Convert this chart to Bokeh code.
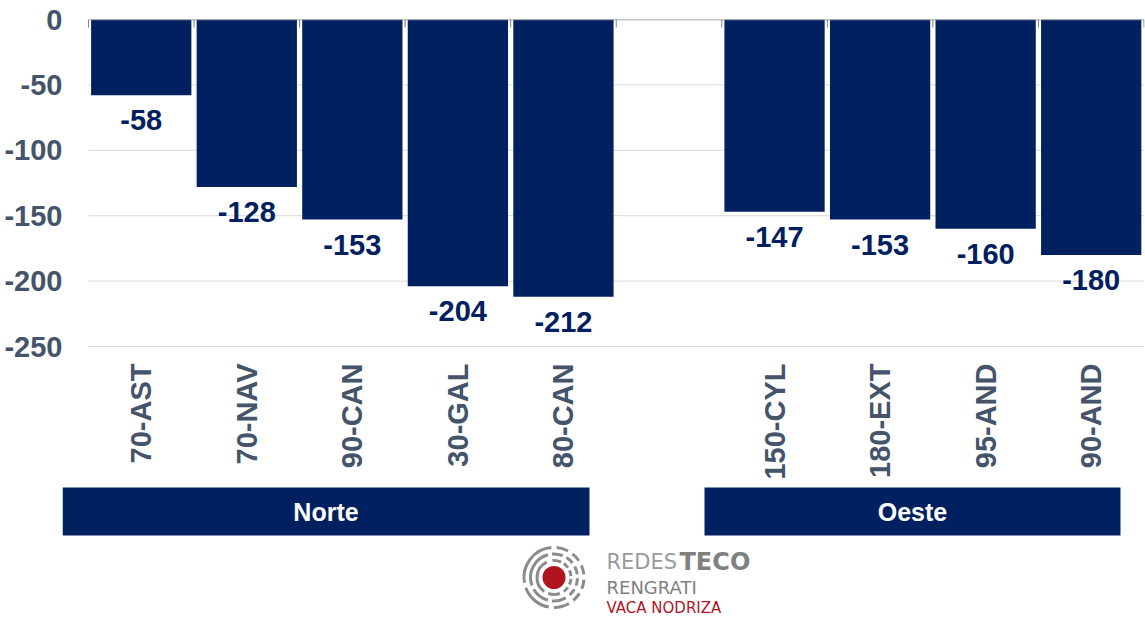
import math
from bokeh.plotting import figure
from bokeh.models import Range1d, FixedTicker
from bokeh.embed import file_html
from bokeh.resources import INLINE
from bokeh.core.properties import value

# ---------------- data ----------------
categories = ["70-AST", "70-NAV", "90-CAN", "30-GAL", "80-CAN",
              "150-CYL", "180-EXT", "95-AND", "90-AND"]
values = [-58, -128, -153, -204, -212, -147, -153, -160, -180]
groups = ["Norte", "Norte", "Norte", "Norte", "Norte",
          "Oeste", "Oeste", "Oeste", "Oeste"]
group_names = ["Norte", "Oeste"]
y_ticks = [0, -50, -100, -150, -200, -250]
logo_lines = ["REDES", "TECO", "RENGRATI", "VACA NODRIZA"]

# ---------------- styling / layout ----------------
NAVY = "#002060"
AXIS_TXT = "#44546A"
FONT = value("Liberation Sans")
W, H = 1145, 619
B_L, B_T, B_R, B_B = 62, 19, 1, 0
MARGIN = 0
PX_PER_UNIT = 1.308
frame_w = W - B_L - B_R
frame_h = H - B_T - B_B
X_START = -0.246
X_END = 10.005
Y_START = -frame_h / PX_PER_UNIT


def px_x(px):
    return X_START + (px - MARGIN - B_L) / frame_w * (X_END - X_START)


def px_y(py):
    return -(py - MARGIN - B_T) / PX_PER_UNIT


def px_len(dpx):
    return dpx / PX_PER_UNIT

# slot positions (gap of one slot between groups)
slots = []
s = 0
for i, g in enumerate(groups):
    if i > 0 and g != groups[i - 1]:
        s += 1
    slots.append(s)
    s += 1
n_slots = s
xs = [sl + 0.5 for sl in slots]

p = figure(width=W, height=H, output_backend="svg", toolbar_location=None,
           x_range=Range1d(X_START, X_END), y_range=Range1d(Y_START, 0),
           x_axis_location=None, min_border_left=B_L, min_border_top=B_T,
           min_border_right=B_R, min_border_bottom=B_B)
p.outline_line_color = None
p.grid.visible = False
p.background_fill_color = "white"
p.border_fill_color = "white"

# y axis
p.yaxis.ticker = FixedTicker(ticks=y_ticks)
p.yaxis.major_label_overrides = {t: str(t) for t in y_ticks}
p.yaxis.axis_line_color = None
p.yaxis.major_tick_line_color = None
p.yaxis.minor_tick_line_color = None
p.yaxis.major_tick_out = 0
p.yaxis.major_tick_in = 0
p.yaxis.major_label_standoff = 0
p.yaxis.major_label_text_font = "Liberation Sans"
p.yaxis.major_label_text_font_style = "bold"
p.yaxis.major_label_text_font_size = "29px"
p.yaxis.major_label_text_color = AXIS_TXT

# gridlines (inside the slot area only)
grid_vals = [t for t in y_ticks if t != 0]
p.segment(x0=[0] * len(grid_vals), x1=[n_slots] * len(grid_vals),
          y0=grid_vals, y1=grid_vals, line_color="#D9D9D9", line_width=1)

# bars
p.vbar(x=xs, top=0, bottom=values, width=0.95, fill_color=NAVY, line_color=None)

# category axis line at zero with slot-boundary ticks
p.segment(x0=[0], x1=[n_slots], y0=[0], y1=[0], line_color="#898989", line_width=1.5)
bounds = list(range(n_slots + 1))
p.segment(x0=bounds, x1=bounds, y0=[0] * len(bounds), y1=[-px_len(8)] * len(bounds),
          line_color="#7F7F7F", line_width=1)

# value labels
p.text(x=xs, y=values, text=[str(v) for v in values], y_offset=25,
       text_align="center", text_baseline="middle", text_font=FONT,
       text_font_style="bold", text_font_size="29px", text_color=NAVY)

# category labels (rotated)
p.text(x=xs, y=[px_y(363)] * len(xs), text=categories, angle=math.pi / 2,
       text_align="right", text_baseline="middle", text_font=FONT,
       text_font_style="bold", text_font_size="29px", text_color=AXIS_TXT)

# group bands
band_left_px = [59, 704]
band_right_px = [589, 1120]
bl = [max(px_x(v), X_START) for v in band_left_px]
br = [px_x(v) for v in band_right_px]
p.quad(left=bl, right=br, top=px_y(487), bottom=px_y(535),
       fill_color=NAVY, line_color=None)
p.text(x=[(a + b) / 2 for a, b in zip(bl, br)], y=[px_y(511)] * 2, text=group_names,
       text_align="center", text_baseline="middle", text_font=FONT,
       text_font_style="bold", text_font_size="25px", text_color="white")

# logo
cx, cy = px_x(553.5), px_y(577)
ring_r = [17, 23.5, 30]
ring_arcs = [
    [(115, 235), (250, 290), (305, 325), (335, 355), (5, 25), (35, 55), (65, 95)],
    [(105, 200), (210, 255), (265, 300), (312, 330), (340, 358), (8, 28), (38, 58), (68, 95)],
    [(95, 190), (200, 260), (270, 300), (310, 328), (338, 356), (6, 24), (34, 52), (62, 85)],
]
ax, ay, ar, a0, a1 = [], [], [], [], []
for r, arcs in zip(ring_r, ring_arcs):
    for st, en in arcs:
        ax.append(cx)
        ay.append(cy)
        ar.append(r)
        a0.append(math.radians(st))
        a1.append(math.radians(en))
p.arc(x=ax, y=ay, radius=ar, radius_units="screen", start_angle=a0, end_angle=a1,
      line_color="#8C8C8C", line_width=3)
p.scatter(x=[cx], y=[cy], size=23, marker="circle", fill_color="#B0151F", line_color=None)

LOGO_FONT = value("DejaVu Sans")
p.text(x=[px_x(606)], y=[px_y(561)], text=[logo_lines[0]], text_align="left",
       text_baseline="alphabetic", text_font=LOGO_FONT, text_font_size="21px",
       text_color="#9A9A9A")
p.text(x=[px_x(679)], y=[px_y(561)], text=[logo_lines[1]], text_align="left",
       text_baseline="alphabetic", text_font=LOGO_FONT, text_font_style="bold",
       text_font_size="24px", text_color="#808080")
p.text(x=[px_x(606)], y=[px_y(587)], text=[logo_lines[2]], text_align="left",
       text_baseline="alphabetic", text_font=LOGO_FONT, text_font_size="18px",
       text_color="#7F7F7F")
p.text(x=[px_x(606)], y=[px_y(607)], text=[logo_lines[3]], text_align="left",
       text_baseline="alphabetic", text_font=LOGO_FONT, text_font_size="15px",
       text_color="#B0151F")

open("out.html", "w").write(file_html(p, INLINE))
